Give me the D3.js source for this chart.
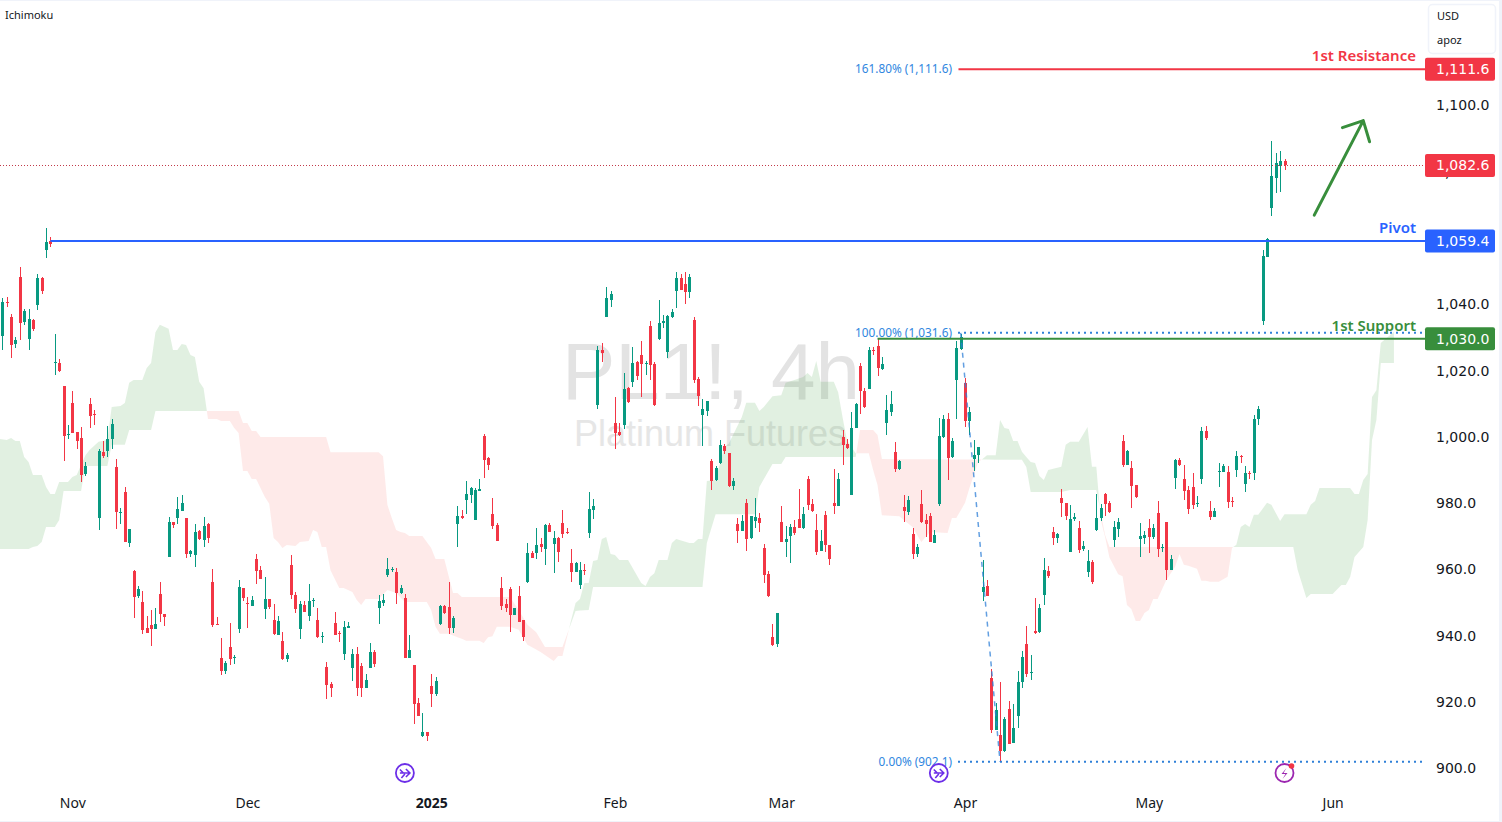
<!DOCTYPE html>
<html>
<head>
<meta charset="utf-8">
<script src="https://cdn.jsdelivr.net/npm/d3@7"></script>
<style>
  html, body { margin: 0; padding: 0; background: #fff; overflow: hidden; }
  text { font-family: "Noto Sans", sans-serif; }
</style>
</head>
<body>
<div id="chart"></div>
<script>
// candles, bar by bar
const opens = [
1030.4,1040.7,1036.1,1028.0,1048.2,1034.6,1029.5,1035.2,1039.8,1047.9,
1056.4,1059.1,1022.3,1022.3,1015.3,1000.5,1010.2,1001.4,999.6,988.8,
1009.9,1006.9,975.5,995.4,995.7,999.3,990.9,977.0,983.3,968.0,
959.5,952.0,950.2,942.4,943.3,942.1,952.6,946.6,963.8,974.3,
975.5,977.6,975.5,964.7,964.4,971.6,968.9,973.7,956.2,943.6,
933.3,929.4,936.6,933.3,942.1,954.4,949.9,949.0,963.2,959.9,
948.1,951.1,944.8,940.2,938.4,933.0,961.4,952.3,942.1,949.3,
946.0,950.5,944.8,939.6,930.6,925.5,943.9,940.8,934.5,942.4,
930.3,934.5,930.9,924.3,930.3,935.1,948.4,949.9,958.3,959.9,
959.2,952.9,951.4,933.3,931.2,919.7,909.8,911.0,924.9,922.4,
943.6,949.0,948.7,942.4,973.8,976.2,981.0,982.5,975.0,983.7,
1000.3,993.7,976.8,973.4,954.4,949.6,954.1,946.3,952.0,944.8,
956.2,965.0,965.0,967.7,966.2,973.4,967.7,969.5,974.0,971.3,
962.0,959.3,955.3,959.9,971.0,978.0,1009.6,1026.2,1036.2,1041.3,
1004.2,1001.5,1003.6,1014.8,1016.6,1022.6,1024.7,1022.0,1033.5,1022.0,
1029.5,1034.4,1025.6,1036.2,1044.0,1047.9,1046.1,1043.7,1035.2,1017.4,
1006.6,1007.8,992.7,987.0,992.1,997.3,995.2,985.2,973.8,971.6,
980.1,969.5,974.6,975.5,966.5,958.6,939.6,937.5,974.3,968.3,
970.1,972.8,975.2,972.5,987.3,979.8,972.0,965.6,976.5,967.4,
980.1,979.2,1000.0,997.9,982.5,1002.7,1021.4,1013.9,1014.4,1026.2,
1027.4,1020.5,1004.2,1007.5,995.5,990.4,978.8,977.4,970.7,964.7,
979.8,974.9,976.1,968.0,979.8,1000.0,1005.4,994.0,1017.2,1026.5,
1016.3,1004.8,993.3,994.5,953.2,955.0,927.2,911.6,910.0,905.2,
917.9,907.6,915.8,926.0,937.5,928.7,941.4,941.1,952.3,959.5,
971.3,969.5,981.5,980.0,965.2,975.2,972.5,966.2,959.2,962.2,
971.9,975.5,982.7,980.0,968.9,972.2,998.7,991.5,990.6,985.5,
969.2,969.5,972.5,969.8,977.0,966.5,974.3,959.8,987.6,993.0,
987.3,984.0,984.9,979.7,987.3,1001.7,977.6,975.8,989.4,989.4,
989.4,980.6,990.0,994.2,985.8,989.1,989.1,1005.4,1035.0,1054.3,
1069.1,1078.1,1081.7,1083.2];
const closes = [
1040.7,1040.5,1027.7,1029.2,1034.3,1037.9,1035.5,1032.5,1047.9,1044.0,
1058.8,1058.2,1022.6,1019.9,1000.2,1000.8,1001.1,998.7,988.5,991.2,
1006.3,1006.7,995.7,994.2,999.3,1003.9,977.3,977.3,968.3,972.2,
951.7,954.1,941.8,940.8,942.1,943.6,946.6,945.7,974.3,973.4,
978.3,980.1,964.7,965.6,971.3,969.2,973.1,969.5,943.3,943.3,
929.4,931.8,933.0,933.6,954.7,951.4,949.6,950.8,959.5,957.1,
951.1,948.7,940.5,944.5,933.0,934.2,952.3,948.1,949.6,947.2,
950.5,950.8,939.6,939.9,925.2,924.3,940.2,940.5,942.7,943.0,
934.5,924.3,924.3,926.7,935.1,931.5,950.5,950.8,960.2,960.2,
952.9,954.4,933.3,935.7,919.4,915.8,911.0,909.8,922.4,926.4,
949.0,946.9,942.4,945.4,976.2,975.5,982.8,984.6,984.0,984.3,
993.1,991.5,973.2,968.6,949.0,948.4,946.3,948.4,944.2,939.6,
965.0,963.5,967.4,966.8,973.4,971.3,969.5,965.3,970.7,971.0,
959.3,962.0,959.9,959.6,978.3,979.2,1026.2,1025.3,1041.9,1043.1,
1001.2,1000.6,1014.5,1010.5,1022.3,1018.4,1022.0,1022.3,1021.7,1009.6,
1034.4,1035.0,1036.5,1037.7,1047.9,1044.3,1043.7,1048.2,1017.2,1012.3,
1008.4,1010.8,986.7,990.6,997.6,995.7,985.2,986.7,971.6,974.6,
969.2,976.1,975.8,974.0,958.3,952.0,937.2,946.9,968.3,969.2,
972.8,971.0,972.5,976.8,979.5,977.7,965.3,968.6,967.4,963.2,
979.2,987.3,997.6,996.7,1002.7,1010.0,1013.9,1009.0,1026.2,1025.9,
1020.8,1022.0,1008.1,1010.0,990.4,992.7,977.7,981.0,964.7,966.8,
974.3,973.7,968.3,970.4,1000.3,1005.4,993.6,998.8,1026.8,1030.1,
1004.8,1007.5,994.5,996.9,954.7,952.0,911.6,917.6,905.2,914.9,
907.3,912.2,926.0,933.6,928.4,929.0,940.8,948.4,959.8,958.0,
969.5,970.7,980.0,976.1,975.2,975.8,965.9,967.1,962.5,956.2,
975.5,978.5,979.7,977.3,972.8,974.3,991.5,995.7,985.2,981.8,
970.1,970.4,969.8,972.5,966.2,966.8,959.8,963.1,993.0,991.5,
983.7,978.2,979.4,980.0,1001.7,999.7,975.8,977.6,989.7,991.2,
980.3,980.3,994.2,993.9,989.1,988.8,1005.4,1008.4,1054.6,1059.7,
1078.7,1082.6,1083.2,1081.9];
const highs = [
1041.8,1042.1,1037.0,1030.0,1051.2,1038.6,1038.6,1035.5,1049.1,1048.2,
1063.0,1060.3,1031.0,1023.5,1015.3,1003.6,1013.8,1001.4,1003.0,992.4,
1011.7,1008.1,996.3,998.7,1003.3,1005.4,993.3,978.5,984.9,972.2,
959.9,955.0,953.5,946.0,947.8,948.4,956.2,946.6,975.8,974.3,
981.9,982.5,975.5,965.9,973.7,971.9,975.8,974.0,960.2,945.7,
939.3,932.4,943.9,934.2,956.8,954.4,951.7,952.0,964.7,961.1,
957.7,951.1,949.6,946.0,941.1,934.8,964.4,953.2,950.5,950.5,
955.6,951.4,948.4,941.1,932.1,926.1,947.2,941.5,944.5,944.2,
936.0,936.6,931.8,928.5,937.8,935.7,952.3,952.6,963.5,960.8,
960.5,955.3,952.6,940.2,931.2,921.2,916.7,911.1,928.5,927.6,
949.3,949.3,956.2,946.0,979.2,978.0,986.7,984.9,984.6,987.3,
1000.9,994.0,981.6,974.0,957.7,951.1,954.7,948.4,955.0,944.8,
968.0,965.6,972.5,969.5,973.8,974.0,971.6,969.8,978.0,972.5,
966.2,962.3,962.3,961.7,983.4,981.3,1027.4,1028.3,1045.2,1044.0,
1012.0,1004.2,1019.3,1015.1,1027.1,1022.9,1029.0,1022.9,1035.0,1022.6,
1041.3,1036.8,1036.8,1038.6,1049.8,1049.1,1049.8,1049.1,1036.2,1018.1,
1011.4,1010.8,993.3,991.2,999.1,997.9,995.2,987.6,975.5,976.5,
981.3,976.1,981.6,977.0,967.7,959.5,943.5,946.9,979.2,973.1,
973.7,974.9,984.3,978.8,988.2,981.3,976.8,972.0,977.7,967.4,
990.4,989.1,1002.1,999.4,1007.5,1010.2,1022.3,1014.8,1027.1,1027.1,
1029.5,1024.1,1012.6,1013.9,998.5,993.0,982.5,982.2,972.5,967.7,
984.0,976.8,977.0,972.0,1005.7,1006.6,1007.2,999.7,1029.0,1031.0,
1017.8,1009.0,999.0,996.9,962.8,956.8,930.0,919.7,926.0,915.5,
920.3,919.4,929.4,935.4,942.9,934.2,951.4,949.6,963.4,961.0,
972.8,971.0,984.3,980.0,979.4,977.0,974.6,968.6,965.9,962.8,
982.7,979.7,983.0,980.6,974.6,975.5,1000.5,996.0,992.7,985.5,
974.0,971.6,975.2,973.7,980.6,967.7,974.3,964.3,993.3,993.6,
991.5,985.2,989.1,982.1,1003.0,1003.3,980.6,978.5,992.1,991.8,
991.2,981.8,995.7,994.5,991.2,989.7,1006.6,1009.3,1056.4,1060.0,
1089.3,1085.6,1086.3,1083.8];
const lows = [
1026.2,1039.2,1023.8,1026.8,1029.2,1033.7,1026.2,1031.9,1038.3,1043.1,
1053.9,1057.3,1018.6,1019.5,992.7,999.3,1001.1,996.3,986.4,988.2,
1002.7,1003.6,971.9,993.6,993.9,996.3,972.2,973.7,968.3,966.8,
945.4,951.4,940.5,940.8,936.9,942.1,944.2,943.0,963.8,972.5,
973.7,977.6,963.5,963.8,960.8,968.9,966.8,968.0,942.7,943.3,
928.2,928.5,931.2,931.5,940.8,950.5,942.4,949.0,955.6,957.1,
945.1,948.1,940.2,940.2,932.7,932.1,951.1,946.9,939.0,947.2,
944.5,948.7,939.3,937.8,920.9,921.5,940.2,938.1,932.7,942.4,
926.4,921.8,921.5,924.3,930.3,930.6,943.6,949.0,957.7,959.2,
949.6,952.6,933.3,933.3,913.4,915.8,909.5,908.3,918.5,921.8,
943.3,946.6,940.6,940.9,966.8,975.2,976.8,980.1,975.0,983.7,
987.6,990.0,972.2,968.6,947.8,947.2,941.1,946.3,944.2,938.4,
955.9,963.5,963.2,965.3,961.4,971.3,959.0,962.3,969.5,970.7,
956.2,959.3,954.1,958.3,969.5,975.2,1008.4,1022.6,1036.2,1039.2,
996.4,1000.3,1002.4,1010.2,1015.1,1017.2,1012.0,1018.7,1017.2,1009.3,
1029.2,1032.9,1023.8,1035.9,1038.9,1044.3,1040.1,1041.9,1016.3,1009.3,
997.3,1006.3,984.0,986.7,991.8,994.8,984.9,984.0,968.0,971.6,
965.6,969.2,972.5,971.3,955.9,951.7,936.9,936.6,968.3,963.8,
962.0,970.4,972.5,972.2,978.0,977.4,964.4,965.6,965.3,961.4,
976.8,979.2,991.5,996.4,982.5,1002.7,1006.9,1008.7,1014.4,1024.7,
1018.4,1020.2,1000.6,1006.3,989.4,990.0,974.3,976.5,963.2,963.8,
974.0,969.8,968.3,968.0,979.2,999.7,987.0,993.6,1005.4,1026.2,
1003.0,1000.6,989.7,992.1,950.5,952.0,910.7,911.6,901.9,904.9,
907.3,907.6,912.2,924.2,927.5,926.6,940.5,940.8,949.3,957.4,
967.4,968.0,975.8,974.9,965.2,974.6,964.9,965.6,957.7,955.6,
971.6,974.6,976.1,977.0,966.8,969.8,990.9,991.5,978.5,981.5,
963.7,967.7,964.9,969.2,963.7,965.2,956.8,959.8,984.3,991.2,
980.9,976.7,978.2,978.8,985.8,999.0,974.9,975.8,984.9,989.4,
978.5,978.8,987.9,992.1,983.4,987.3,987.0,1003.6,1033.8,1054.3,
1066.6,1073.6,1073.9,1080.5];

// ichimoku spans: bar number and value at each visible corner
const spanABars = [-1,1,2,3,4,5,6,7,9,10,11,12,13,15,16,17,19,20,22,24,25,27,28,29,30,32,33,34,35,36,38,39,40,41,42,43,44,45,46,47,49,50,52,53,54,55,56,57,58,60,61,62,63,64,65,67,68,70,71,72,73,74,75,77,78,80,81,82,83,86,88,90,92,97,98,99,100,102,105,106,109,110,111,112,113,116,118,120,123,126,127,128,130,131,132,133,134,135,136,137,138,139,140,141,143,146,147,148,149,150,152,153,154,157,158,159,160,161,163,165,166,169,170,172,173,174,176,178,179,181,183,184,185,186,187,190,191,192,193,195,198,199,200,201,205,206,208,210,212,216,217,218,220,221,222,223,224,225,227,228,229,230,231,232,233,235,236,237,238,239,242,243,244,246,248,249,250,251,252,253,255,256,257,258,259,260,261,262,263,264,266,268,269,270,271,273,274,275,276,278,280,281,282,283,284,285,286,287,289,290,292,293,298,299,300,301,308,309,310,311,312,313,314,315,318];
const spanA = [999.4,999.1,999.7,998.8,998.8,993.9,992.4,988.5,988.5,984.9,982.8,982.8,986.4,986.4,987.9,988.5,994.5,996.1,998.5,999.1,1009.0,1009.3,1010.2,1016.3,1017.2,1017.2,1020.8,1022.3,1031.6,1033.8,1032.6,1026.2,1026.2,1028.0,1027.7,1024.7,1024.1,1016.6,1014.7,1005.4,1005.4,1004.8,1004.8,1002.7,1001.2,989.7,989.7,987.3,987.3,981.9,979.8,969.5,968.3,966.5,967.4,967.1,968.3,968.6,971.9,971.3,966.8,966.8,959.8,954.4,954.4,953.2,950.8,949.3,951.1,951.1,953.8,952.9,950.2,950.2,947.8,942.7,940.6,940.6,939.1,938.5,938.5,937.8,939.6,939.9,942.7,942.7,941.8,937.3,935.1,932.4,933.9,933.9,944.8,949.9,951.1,955.9,955.9,962.6,962.9,969.2,969.8,964.7,964.4,962.9,962.9,955.9,955.0,957.7,958.9,962.9,962.9,968.0,969.2,968.0,968.0,969.2,969.2,986.7,987.0,997.0,997.9,1006.0,1010.3,1010.3,1007.8,1009.0,1012.3,1012.6,1016.3,1017.2,1018.1,1019.3,1018.1,1022.9,1016.6,1016.6,1013.5,1006.0,999.1,995.1,995.1,990.0,985.5,976.4,976.1,974.9,972.8,968.3,971.3,971.0,975.5,975.5,980.1,984.6,988.5,992.4,993.3,994.5,994.5,1005.1,1002.7,1002.4,998.8,998.8,995.5,992.4,992.1,988.2,987.0,990.0,991.0,997.6,998.5,998.5,1003.0,991.0,991.0,975.0,969.8,963.6,958.6,958.0,949.3,948.1,944.5,944.5,946.9,947.8,951.1,951.1,956.8,960.8,964.7,961.4,961.1,960.2,956.6,956.6,956.3,956.3,957.8,966.5,967.5,972.8,973.7,972.8,976.5,976.5,980.1,979.5,974.6,976.7,976.7,979.5,980.7,984.6,984.6,982.8,982.8,987.0,988.8,1012.0,1014.1,1028.3,1031.7];
const spanBBars = [-1,6,7,8,9,10,12,13,14,18,19,24,25,28,29,34,35,54,55,56,57,58,59,74,75,86,87,88,89,90,91,92,93,96,98,99,101,103,104,105,116,118,120,122,124,128,131,134,135,160,161,163,172,173,176,178,179,195,196,199,200,201,233,234,235,242,244,250,252,253,295,296,298,299,304,306,307,308,309,311,312,313,314,315,318];
const spanB = [966.2,966.2,966.8,967.1,968.3,972.8,972.8,974.9,983.7,983.7,991.2,991.2,997.6,997.6,1002.1,1002.1,1007.8,1007.8,1004.2,1004.2,1001.8,1001.8,1000.0,1000.0,995.4,995.4,994.2,979.5,975.5,971.9,971.3,971.0,970.1,970.1,966.5,963.2,963.2,952.9,952.9,951.7,951.7,947.8,943.3,941.1,936.6,936.6,947.5,947.8,954.7,954.7,968.0,976.7,976.7,984.9,991.8,991.8,993.9,993.9,1002.1,1002.1,1000.6,993.3,993.1,990.9,983.4,983.4,984.0,984.0,970.4,966.8,966.8,959.9,951.4,952.6,952.6,955.3,955.3,957.7,963.8,966.8,974.9,999.1,1005.1,1022.3,1022.3];

// horizontal levels and their labels
const levelNames = ["1st Resistance", "Pivot", "1st Support"];
const levelValues = [1110.9, 1059.1, 1029.6];
const levelStartBars = [218.5, 11, 200];
const levelLabels = ["1,111.6", "1,059.4", "1,030.0"];
const levelColors = ["#f23645", "#2962ff", "#388e3c"];
const fibTexts = ["161.80% (1,111.6)", "100.00% (1,031.6)", "0.00% (902.1)"];
const fibValues = [1110.9, 1031.4, 902.0];
const lastLabel = "1,082.6";

const priceTicks = [900, 920, 940, 960, 980, 1000, 1020, 1040, 1060, 1080, 1100];
const monthBars = [16, 56, 98, 140, 178, 220, 262, 304];
const monthNames = ["Nov", "Dec", "2025", "Feb", "Mar", "Apr", "May", "Jun"];
const eventBars = [92, 214, 293];

const width = 1502;
const height = 822;
const plotRight = 1425;
const axisFont = "'DejaVu Sans', sans-serif";

const svg = d3.select("#chart").append("svg")
    .attr("width", width)
    .attr("height", height)
    .style("display", "block");

const x = d3.scaleLinear().domain([0, 293]).range([2.3, 1284.5]);
const y = d3.scaleLinear().domain([900, 1100]).range([768.4, 105.4]);

// frame strips around the screenshot
svg.append("rect").attr("width", width).attr("height", 1).attr("fill", "#f0f3fa");
svg.append("rect").attr("y", 821).attr("width", width).attr("height", 1).attr("fill", "#f0f3fa");
svg.append("rect").attr("x", 1499).attr("width", 3).attr("height", height).attr("fill", "#f0f3fa");

// watermark
const mark = svg.append("g").attr("text-anchor", "middle");
mark.append("text").attr("x", 711).attr("y", 399).attr("font-size", 80).attr("fill", "#e3e3e3")
    .style("font-family", "'Liberation Sans', sans-serif").text("PL1!, 4h");
mark.append("text").attr("x", 710).attr("y", 446).attr("font-size", 36).attr("fill", "#e6e6e6")
    .style("font-family", "'Liberation Sans', sans-serif").text("Platinum Futures");

// cloud: merge both spans onto one set of bars, add a row at each crossing
const aAt = d3.scaleLinear().domain(spanABars).range(spanA);
const bAt = d3.scaleLinear().domain(spanBBars).range(spanB);
const bars = Array.from(new Set(spanABars.concat(spanBBars))).sort(d3.ascending);
const cloud = [];
bars.forEach(function(bar, i) {
  const a = aAt(bar), b = bAt(bar);
  if (i > 0) {
    const prev = cloud[cloud.length - 1];
    if ((prev.a - prev.b) * (a - b) < 0) {
      const t = (prev.a - prev.b) / ((prev.a - prev.b) - (a - b));
      const v = prev.a + t * (a - prev.a);
      cloud.push({bar: prev.bar + t * (bar - prev.bar), a: v, b: v});
    }
  }
  cloud.push({bar: bar, a: a, b: b});
});

// the watermark shows through, so the cloud fills stay translucent
const cloudArea = d3.area().x(d => x(d.bar)).y0(d => y(d.b));
svg.append("path").datum(cloud)
    .attr("fill", "#43a047").attr("fill-opacity", 0.16)
    .attr("d", cloudArea.y1(d => y(Math.max(d.a, d.b))));
svg.append("path").datum(cloud)
    .attr("fill", "#f44336").attr("fill-opacity", 0.11)
    .attr("d", cloudArea.y1(d => y(Math.min(d.a, d.b))));

// candles
const candleColor = i => closes[i] >= opens[i] ? "#089981" : "#f23645";
const candles = svg.append("g").attr("shape-rendering", "crispEdges")
  .selectAll("g").data(d3.range(opens.length)).enter().append("g")
    .attr("fill", candleColor);
candles.append("rect")
    .attr("x", i => Math.round(x(i)))
    .attr("width", 1)
    .attr("y", i => Math.round(y(highs[i])))
    .attr("height", i => Math.max(1, Math.round(y(lows[i])) - Math.round(y(highs[i]))));
candles.append("rect")
    .attr("x", i => Math.round(x(i)) - 1)
    .attr("width", 3)
    .attr("y", i => Math.round(y(Math.max(opens[i], closes[i]))))
    .attr("height", i => Math.max(1, Math.round(y(Math.min(opens[i], closes[i]))) - Math.round(y(Math.max(opens[i], closes[i])))));

// last price line
const lastY = Math.round(y(closes[closes.length - 1])) + 0.5;
svg.append("line")
    .attr("x1", 0).attr("x2", plotRight)
    .attr("y1", lastY).attr("y2", lastY)
    .attr("stroke", "#c23a4a").attr("stroke-width", 1).attr("stroke-dasharray", "1 2")
    .attr("shape-rendering", "crispEdges");

// fib: dashed trend and dotted levels
const fibBlue = "#2f80d8";
svg.append("line")
    .attr("x1", x(219)).attr("y1", y(fibValues[1]))
    .attr("x2", x(228)).attr("y2", y(fibValues[2]))
    .attr("stroke", fibBlue).attr("stroke-width", 1.5).attr("stroke-dasharray", "5 5").attr("opacity", 0.75);
[1, 2].forEach(function(k) {
  svg.append("line")
      .attr("x1", 958).attr("x2", plotRight)
      .attr("y1", y(fibValues[k])).attr("y2", y(fibValues[k]))
      .attr("stroke", fibBlue).attr("stroke-width", 2).attr("stroke-dasharray", "2 4");
});
svg.append("g").selectAll("text").data(fibTexts).enter().append("text")
    .attr("x", 952)
    .attr("y", (d, i) => y(fibValues[i]))
    .attr("dy", "0.35em")
    .attr("text-anchor", "end")
    .attr("font-size", 11.8)
    .attr("fill", "#2f86e0")
    .text(d => d);

// level lines with names above them
levelNames.forEach(function(name, i) {
  svg.append("line")
      .attr("x1", x(levelStartBars[i])).attr("x2", plotRight)
      .attr("y1", y(levelValues[i])).attr("y2", y(levelValues[i]))
      .attr("stroke", levelColors[i]).attr("stroke-width", 2);
  svg.append("text")
      .attr("x", 1416).attr("y", y(levelValues[i]) - 8)
      .attr("text-anchor", "end")
      .attr("font-size", 15).attr("font-weight", 600)
      .attr("fill", levelColors[i])
      .text(name);
});

// green up arrow
const arrowStart = [x(299.8), y(1066.9)];
const arrowTip = [x(311), y(1095.4)];
const dir = Math.atan2(arrowStart[1] - arrowTip[1], arrowStart[0] - arrowTip[0]);
const wing = a => [arrowTip[0] + 22 * Math.cos(dir + a), arrowTip[1] + 22 * Math.sin(dir + a)];
const wingA = wing(0.77), wingB = wing(-0.77);
svg.append("path")
    .attr("d", d3.line()([arrowStart, arrowTip]) + d3.line()([wingA, arrowTip, wingB]))
    .attr("fill", "none").attr("stroke", "#388e3c").attr("stroke-width", 3).attr("stroke-linecap", "round").attr("stroke-linejoin", "round");

// event marks on the time line
eventBars.forEach(function(bar, i) {
  const g = svg.append("g").attr("transform", "translate(" + x(bar) + ",773)");
  const c = i < 2 ? "#6c2ee8" : "#9c27b0";
  g.append("circle").attr("r", 9).attr("fill", "#fff").attr("stroke", c).attr("stroke-width", 1.8);
  if (i < 2) {
    g.append("path").attr("d", "M-5,-3.5 L-1.5,0 M-5,0 H5 M1,-4 L5,0 L1,4 M-3.5,5 L0,1")
        .attr("fill", "none").attr("stroke", c).attr("stroke-width", 1.6);
  } else {
    g.append("path").attr("d", "M2,-5 L-3,1 H1 L-2,6 L3,0 H-1 Z").attr("fill", c);
    g.append("circle").attr("cx", 7).attr("cy", -7).attr("r", 2.8).attr("fill", "#f23645");
  }
});

// price axis
const yAxis = d3.axisRight(y).tickValues(priceTicks).tickSize(0).tickPadding(11).tickFormat(d3.format(",.1f"));
const yG = svg.append("g").attr("transform", "translate(" + plotRight + ",0)").call(yAxis);
yG.select(".domain").remove();
yG.selectAll("text").attr("font-size", 14).attr("fill", "#131722").style("font-family", axisFont);

// price boxes
const boxColors = levelColors.concat(["#f23645"]);
const boxValues = levelValues.concat([closes[closes.length - 1]]);
const boxTexts = levelLabels.concat([lastLabel]);
const boxes = svg.append("g").selectAll("g").data(boxTexts).enter().append("g")
    .attr("transform", (d, i) => "translate(" + plotRight + "," + y(boxValues[i]) + ")");
boxes.append("rect").attr("x", 0).attr("y", -11.5).attr("width", 70).attr("height", 23).attr("rx", 2)
    .attr("fill", (d, i) => boxColors[i]);
boxes.append("text").attr("x", 11).attr("dy", "0.35em").attr("font-size", 14)
    .attr("fill", "#fff").style("font-family", axisFont).text(d => d);

// time axis
const xAxis = d3.axisBottom(x).tickValues(monthBars).tickSize(0).tickPadding(0).tickFormat((d, i) => monthNames[i]);
const xG = svg.append("g").attr("transform", "translate(0,798)").call(xAxis);
xG.select(".domain").remove();
xG.selectAll("text").attr("font-size", 14).attr("fill", "#131722").style("font-family", "'Noto Sans', sans-serif")
    .attr("font-weight", (d, i) => monthNames[i] === "2025" ? 700 : 400);

// legend and currency box
svg.append("text").attr("x", 5).attr("y", 19).attr("font-size", 11).attr("fill", "#131722").text("Ichimoku");
svg.append("rect").attr("x", 1428.5).attr("y", 4.5).attr("width", 67).attr("height", 49).attr("rx", 4)
    .attr("fill", "#fff").attr("stroke", "#f0f3fa").attr("stroke-width", 1.5);
svg.append("text").attr("x", 1437).attr("y", 20).attr("font-size", 11).attr("fill", "#131722").text("USD");
svg.append("text").attr("x", 1437).attr("y", 44).attr("font-size", 11).attr("fill", "#131722").text("apoz");
</script>
</body>
</html>
